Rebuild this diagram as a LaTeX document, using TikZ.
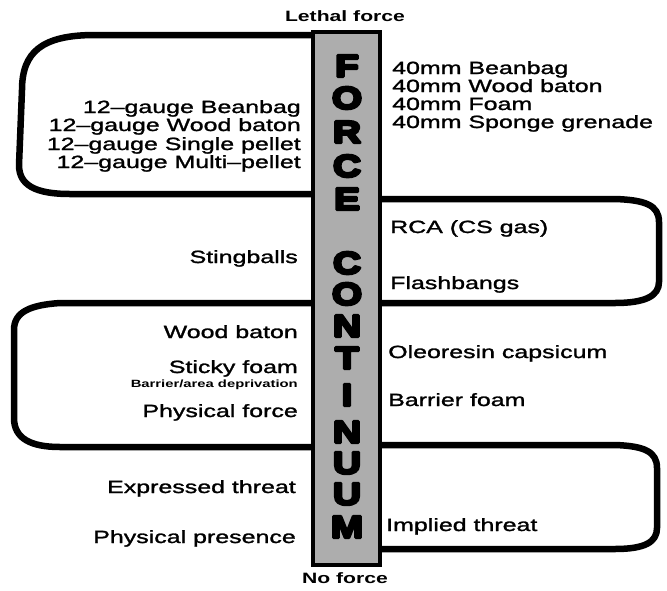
\documentclass[tikz,border=0pt]{standalone}
\usepackage{fontspec}
\setmainfont{Liberation Sans}
\newfontfamily\lblfont[FakeStretch=1.41,UprightFeatures={FakeBold=1.5}]{Liberation Sans}
\newfontfamily\colfont[BoldFeatures={FakeStretch=1.25,FakeBold=9}]{Liberation Sans}
\begin{document}
\begin{tikzpicture}[x=1pt,y=-1pt,
  loopline/.style={line width=6.5pt, line cap=round, line join=round},
  lt/.style={anchor=base east, inner sep=0pt, line join=round, font=\lblfont\fontsize{17.7}{18}\selectfont},
  rt/.style={anchor=base west, inner sep=0pt, line join=round, font=\lblfont\fontsize{17.7}{18}\selectfont},
  small/.style={anchor=base east, inner sep=0pt, font=\lblfont\bfseries\fontsize{10.5}{11}\selectfont},
  endlabel/.style={anchor=base, inner sep=0pt, font=\lblfont\bfseries\fontsize{15}{16}\selectfont},
  colletter/.style={anchor=center, inner sep=0pt, line join=round, miter limit=1, font=\colfont\bfseries\fontsize{31}{31}\selectfont},
  column/.style={draw=black, line width=3.5pt, fill=black!32}]
\useasboundingbox (0,0) rectangle (667,590);

% loops
\coordinate (l1a) at (315,35);
\coordinate (l1b) at (315,194);
\draw[loopline] (l1a) -- (95,35) .. controls (42,35) and (22,52) .. (22,90)
  -- (19,165) .. controls (19,185) and (35,194) .. (70,194) -- (l1b);
\coordinate (l2a) at (378,199);
\coordinate (l2b) at (378,303);
\draw[loopline] (l2a) -- (615,199) .. controls (645,200) and (659,205) .. (659,222)
  -- (659,282) .. controls (659,296) and (645,303) .. (615,303) -- (l2b);
\coordinate (l3a) at (315,303);
\coordinate (l3b) at (315,447);
\draw[loopline] (l3a) -- (60,303) .. controls (30,305) and (14,312) .. (14,330)
  -- (14,418) .. controls (14,438) and (30,447) .. (60,447) -- (l3b);
\coordinate (l4a) at (378,445);
\coordinate (l4b) at (378,549);
\draw[loopline] (l4a) -- (615,445) .. controls (645,446) and (657,452) .. (657,468)
  -- (657,528) .. controls (657,542) and (645,549) .. (615,549) -- (l4b);

% column
\node[column, minimum width=67pt, minimum height=533pt, anchor=north, inner sep=0pt] (col) at (346.5,30) {};

\foreach \ch/\yy/\nm in {F/66/c1, O/98/c2, R/132/c3, C/166/c4, E/199/c5, C/263/c6, O/294/c7, N/326/c8, T/358/c9, I/395/c10, N/432/c11, U/463/c12, U/494/c13, M/527/c14}
  \node[colletter] (\nm) at (347,\yy) {\ch};

% end labels
\node[endlabel] (lethal) at (345,21) {Lethal force};
\node[endlabel] (noforce) at (345,583) {No force};

% left labels
\node[lt] (a1) at (301,113) {12–gauge Beanbag};
\node[lt] (a2) at (301,131) {12–gauge Wood baton};
\node[lt] (a3) at (301,150) {12–gauge Single pellet};
\node[lt] (a4) at (301,168) {12–gauge Multi–pellet};
\node[lt] (b1) at (298,263) {Stingballs};
\node[lt] (c1) at (298,338) {Wood baton};
\node[lt] (c2) at (298,373) {Sticky foam};
\node[small] (c3) at (298,387) {Barrier/area deprivation};
\node[lt] (c4) at (298,417) {Physical force};
\node[lt] (d1) at (296,493) {Expressed threat};
\node[lt] (d2) at (296,543) {Physical presence};

% right labels
\node[rt] (e1) at (392,74) {40mm Beanbag};
\node[rt] (e2) at (392,92) {40mm Wood baton};
\node[rt] (e3) at (392,110) {40mm Foam};
\node[rt] (e4) at (392,128) {40mm Sponge grenade};
\node[rt] (f1) at (390,233) {RCA (CS gas)};
\node[rt] (f2) at (390,289) {Flashbangs};
\node[rt] (g1) at (388,358) {Oleoresin capsicum};
\node[rt] (g2) at (388,406) {Barrier foam};
\node[rt] (h1) at (386,531) {Implied threat};
\end{tikzpicture}
\end{document}
